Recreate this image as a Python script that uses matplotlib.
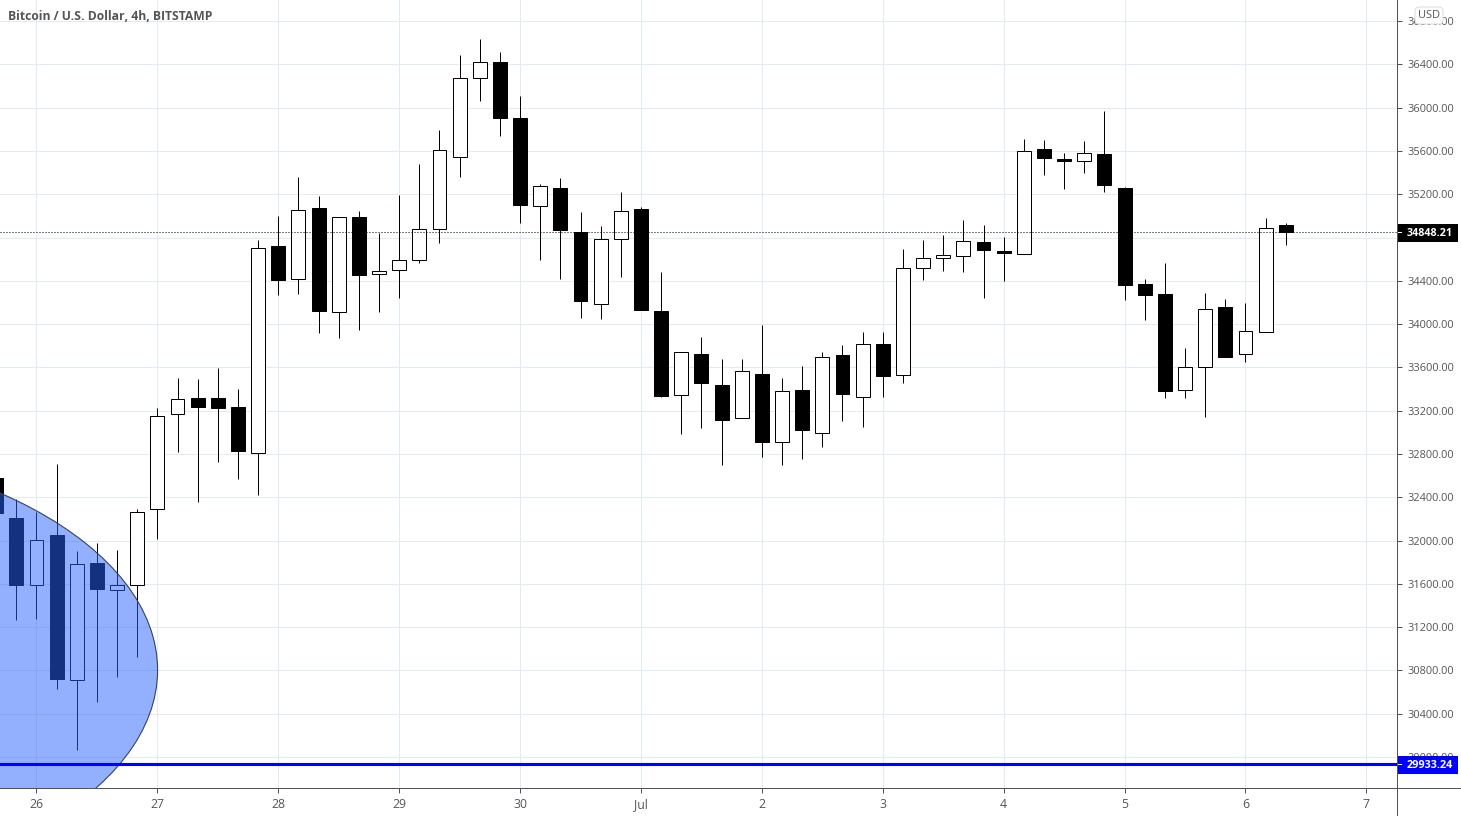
import numpy as np
import matplotlib
matplotlib.use("Agg")
import matplotlib.pyplot as plt
from matplotlib.lines import Line2D
from matplotlib.patches import Ellipse, FancyBboxPatch, Rectangle

plt.rcParams['font.family'] = ['Open Sans', 'DejaVu Sans']

# 4h candles, first one sits two bars before the 26th
opens = [32582, 32212, 31589, 32049, 30714, 31790, 31543, 31589, 32296, 33174, 33313, 33313, 33233,
         32810, 34722, 34414, 35073, 34109, 34990, 34466, 34497, 34590, 34876, 35548, 36273, 36424,
         35906, 35095, 35255, 34851, 34188, 34789, 35064, 34121, 33341, 33723, 33436, 33134, 33538,
         32912, 33390, 32995, 33714, 33331, 33815, 33531, 34521, 34614, 34632, 34759, 34676, 34651,
         35619, 35527, 35511, 35573, 35258, 34370, 34278, 33393, 33605, 34158, 33726, 33929, 34916]
highs = [32700, 32388, 32264, 32712, 31901, 31975, 31910, 32289, 33223, 33501, 33492, 33593, 33399,
         34777, 34999, 35360, 35184, 34990, 35046, 34845, 35194, 35480, 35795, 36489, 36637, 36516,
         36109, 35295, 35348, 35036, 34907, 35221, 35080, 34478, 33738, 33880, 33677, 33677, 33991,
         33501, 33612, 33741, 33806, 33926, 33926, 34694, 34777, 34824, 34962, 34916, 34805, 35712,
         35702, 35582, 35693, 35971, 35268, 34417, 34565, 33778, 34287, 34232, 34195, 34981, 34935]
lows = [32100, 31262, 31272, 30633, 30069, 30513, 30744, 30920, 32012, 32816, 32354, 32724, 32567,
        32421, 34269, 34278, 33917, 33874, 33945, 34114, 34244, 34567, 34752, 35363, 36066, 35739,
        34937, 34595, 34419, 34056, 34049, 34435, 34130, 33325, 32986, 33038, 32696, 33134, 32770,
        32696, 32751, 32863, 33103, 33047, 33325, 33455, 34407, 34491, 34481, 34241, 34398, 34651,
        35379, 35249, 35397, 35221, 34222, 34037, 33316, 33316, 33140, 33695, 33649, 33929, 34731]
closes = [32255, 31589, 32009, 30717, 31787, 31552, 31593, 32268, 33147, 33304, 33233, 33226, 32828,
          34700, 34410, 35052, 34123, 34987, 34456, 34488, 34590, 34876, 35607, 36273, 36421, 35906,
          35104, 35274, 34870, 34216, 34784, 35043, 34133, 33337, 33738, 33455, 33112, 33563, 32909,
          33378, 33020, 33692, 33353, 33812, 33519, 34515, 34608, 34636, 34765, 34685, 34657, 35601,
          35536, 35508, 35579, 35286, 34361, 34269, 33381, 33600, 34136, 33695, 33933, 34885, 34848.21]

day_labels = ['26', '27', '28', '29', '30', 'Jul', '2', '3', '4', '5', '6', '7']
price_ticks = [30000, 30400, 30800, 31200, 31600, 32000, 32400, 32800, 33200, 33600, 34000, 34400,
               34800, 35200, 35600, 36000, 36400, 36800]
last_price = 34848.21
support_price = 29933.24

bars_per_day = 6
idx = np.arange(len(opens)) - 2

grid_col = '#e1ecf2'
text_col = '#555555'
axis_col = '#50535e'
px = 0.72  # one pixel in points

W, H = 1461, 816
axis_x, axis_y = 1397, 788
fig = plt.figure(figsize=(W / 100, H / 100), dpi=100)
ax = fig.add_axes([0, (H - axis_y) / H, axis_x / W, axis_y / H])
ax.set_xlim(-1.811, 67.52)
ax.set_ylim(29714, 36995)
price_per_px = (36995 - 29714) / axis_y

day_pos = np.arange(len(day_labels)) * bars_per_day
ax.set_xticks(day_pos)
ax.set_xticklabels(day_labels)
ax.set_yticks(price_ticks)
ax.set_yticklabels(['%.2f' % p for p in price_ticks])
ax.yaxis.tick_right()
ax.grid(True, color=grid_col, lw=px)
ax.set_axisbelow(True)
ax.tick_params(axis='y', length=3.5, width=px, color=axis_col, labelcolor=text_col, labelsize=7.9, pad=4)
ax.tick_params(axis='x', length=3.5, width=px, color=axis_col, labelcolor=text_col, labelsize=8.8, pad=3.5)
for s in ax.spines.values():
    s.set_visible(False)

# axis lines run out to the edge of the figure
fig.add_artist(Line2D([0, 1], [1 - axis_y / H] * 2, color=axis_col, lw=px))
fig.add_artist(Line2D([axis_x / W] * 2, [0, 1], color=axis_col, lw=px))

# candles
ax.vlines(idx, lows, highs, color='black', lw=px, zorder=2)
for i, o, c in zip(idx, opens, closes):
    face = 'black' if c < o else 'white'
    ax.bar(i, abs(c - o), bottom=min(o, c), width=0.69, facecolor=face, edgecolor='black', lw=px, zorder=3)

ax.axhline(last_price, color='black', lw=px, ls=(0, (1, 2)), zorder=4)

# the shaded ellipse sits over the candles
ax.add_patch(Ellipse((-15.14, 30804), 42.3, 4213, facecolor='#2962ff', alpha=0.5, lw=0, zorder=5))
ax.add_patch(Ellipse((-15.14, 30804), 42.3, 4213, facecolor='none', edgecolor='#3a4258', lw=0.8, zorder=5))

ax.axhline(support_price, color='#0000ff', lw=2.2, zorder=6)

# price labels on the axis
trans = ax.get_yaxis_transform()
for price, col in [(last_price, 'black'), (support_price, '#0000ff')]:
    ax.add_patch(Rectangle((1.0, price - 9.5 * price_per_px), 61 / axis_x, 18 * price_per_px, transform=trans,
                           fc=col, ec='none', zorder=9, clip_on=False))
    ax.text(1.0 + 32.5 / axis_x, price, '%.2f' % price, transform=trans, ha='center', va='center_baseline',
            color='white', fontsize=7.8, fontweight='bold', zorder=10, clip_on=False)
    ax.plot([1.0, 1.0 + 4 / axis_x], [price, price], transform=trans, color='white', lw=px, zorder=11, clip_on=False)

# currency button over the top tick label
fig.add_artist(FancyBboxPatch((1415 / W, 1 - 24 / H), 28 / W, 17 / H,
                              boxstyle='round,pad=0,rounding_size=0.003', transform=fig.transFigure,
                              fc='white', ec='#dcdfe6', lw=0.8, mutation_aspect=W / H))
fig.text(1429 / W, 1 - 15.5 / H, 'USD', ha='center', va='center', color=text_col, fontsize=7.9)

fig.text(8 / W, 1 - 16 / H, 'Bitcoin / U.S. Dollar, 4h, BITSTAMP', ha='left', va='center',
         color=text_col, fontsize=8.7, fontweight='bold')

fig.savefig('out.png', dpi=100)
